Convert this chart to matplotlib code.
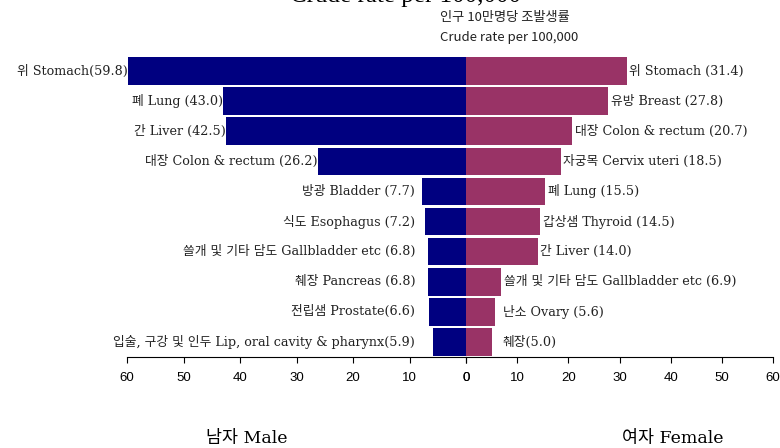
import matplotlib
matplotlib.use("Agg")
import matplotlib.pyplot as plt
import numpy as np

# ---------------------------------------------------------------------------
# Data
# ---------------------------------------------------------------------------
male_labels = [
    "위 Stomach(59.8)",
    "폐 Lung (43.0)",
    "간 Liver (42.5)",
    "대장 Colon & rectum (26.2)",
    "방광 Bladder (7.7)",
    "식도 Esophagus (7.2)",
    "쓸개 및 기타 담도 Gallbladder etc (6.8)",
    "췌장 Pancreas (6.8)",
    "전립샘 Prostate(6.6)",
    "입술, 구강 및 인두 Lip, oral cavity & pharynx(5.9)",
]
male_values = [59.8, 43.0, 42.5, 26.2, 7.7, 7.2, 6.8, 6.8, 6.6, 5.9]

female_labels = [
    "위 Stomach (31.4)",
    "유방 Breast (27.8)",
    "대장 Colon & rectum (20.7)",
    "자궁목 Cervix uteri (18.5)",
    "폐 Lung (15.5)",
    "갑상샘 Thyroid (14.5)",
    "간 Liver (14.0)",
    "쓸개 및 기타 담도 Gallbladder etc (6.9)",
    "난소 Ovary (5.6)",
    "췌장(5.0)",
]
female_values = [31.4, 27.8, 20.7, 18.5, 15.5, 14.5, 14.0, 6.9, 5.6, 5.0]

ticks = [0, 10, 20, 30, 40, 50, 60]

MALE_COLOR = "#000080"
FEMALE_COLOR = "#993366"
SERIF_KR = ["DejaVu Serif", "Noto Sans CJK KR"]
SANS_KR = ["Noto Sans CJK KR", "DejaVu Sans"]
TICK_FONT = ["Liberation Sans Narrow", "Liberation Sans", "DejaVu Sans"]

# ---------------------------------------------------------------------------
# Figure
# ---------------------------------------------------------------------------
W, H = 780, 448
fig = plt.figure(figsize=(W / 100, H / 100), dpi=100)

top, bottom = 56, 357
ax_m = fig.add_axes([127 / W, 1 - bottom / H, (466 - 127) / W, (bottom - top) / H])
ax_f = fig.add_axes([466 / W, 1 - bottom / H, (773 - 466) / W, (bottom - top) / H])

y = np.arange(len(male_values))
ax_m.barh(y, male_values, height=0.92, color=MALE_COLOR)
ax_f.barh(y, female_values, height=0.92, color=FEMALE_COLOR)

ax_m.set_xlim(60, 0)
ax_f.set_xlim(0, 60)
for ax in (ax_m, ax_f):
    ax.set_ylim(len(y) - 0.5, -0.5)
    ax.set_yticks([])
    ax.set_xticks(ticks)
    ax.set_xticklabels([str(t) for t in ticks], family=TICK_FONT, fontsize=9.5)
    ax.tick_params(axis="x", direction="out", length=4, width=0.8, pad=7)
    for side in ("top", "left", "right"):
        ax.spines[side].set_visible(False)
    ax.spines["bottom"].set_linewidth(0.8)
    ax.patch.set_alpha(0)

# bar labels
for yi, (lab, v) in enumerate(zip(male_labels, male_values)):
    ax_m.annotate(lab, xy=(max(v, 9.0), yi), xytext=(0, 0), textcoords="offset points",
                  ha="right", va="center", family=SERIF_KR, fontsize=9.2, color="#222222")
for yi, (lab, v) in enumerate(zip(female_labels, female_values)):
    ax_f.annotate(lab, xy=(max(v, 6.6), yi), xytext=(2, 0), textcoords="offset points",
                  ha="left", va="center", family=SERIF_KR, fontsize=9.2, color="#222222")

# titles
fig.text(0.52, 1 - 2 / H, "Crude rate per 100,000", ha="center", va="baseline",
         family=["Liberation Serif", "DejaVu Serif"], fontsize=18)
fig.text(440 / W, 1 - 18 / H, "인구 10만명당 조발생률", ha="left", va="center",
         family=SANS_KR, fontsize=9.5, color="#222222")
fig.text(440 / W, 1 - 37 / H, "Crude rate per 100,000", ha="left", va="center",
         family=SANS_KR, fontsize=9.5, color="#222222")

fig.text(247 / W, 1 - 438 / H, "남자 Male", ha="center", va="center",
         family=SERIF_KR, fontsize=12.5)
fig.text(673 / W, 1 - 438 / H, "여자 Female", ha="center", va="center",
         family=SERIF_KR, fontsize=12.5)

fig.savefig("out.png", dpi=100)
